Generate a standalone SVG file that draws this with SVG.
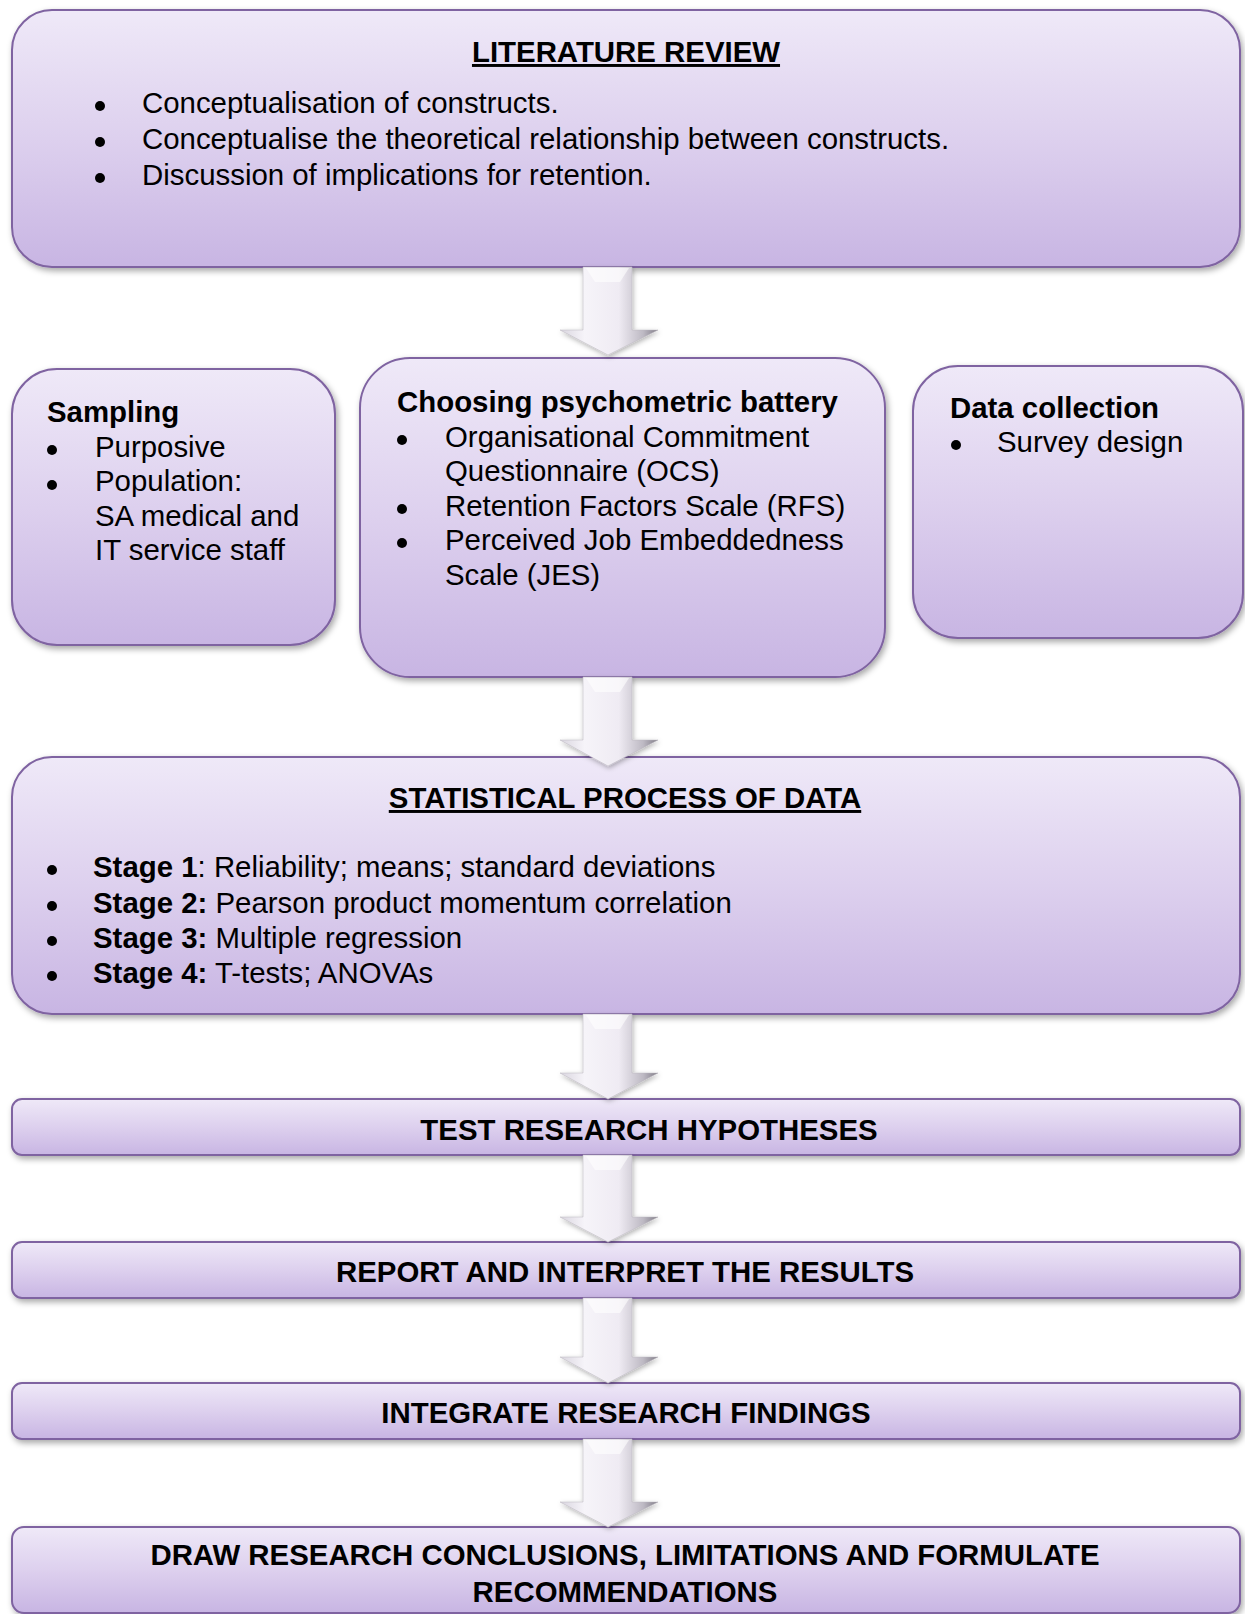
<svg xmlns="http://www.w3.org/2000/svg" width="1245" height="1614" viewBox="0 0 1245 1614">
<defs>
<linearGradient id="boxFill" x1="0" y1="0" x2="0" y2="1">
<stop offset="0" stop-color="#efe9f8"/>
<stop offset="0.5" stop-color="#ddd0ee"/>
<stop offset="1" stop-color="#c8b5e3"/>
</linearGradient>
<linearGradient id="arrowFill" x1="0" y1="0" x2="1" y2="0">
<stop offset="0" stop-color="#d9d5df"/>
<stop offset="0.25" stop-color="#f6f4f9"/>
<stop offset="0.6" stop-color="#efebf3"/>
<stop offset="0.85" stop-color="#bdb9c3"/>
<stop offset="1" stop-color="#7f7b86"/>
</linearGradient>
<filter id="shadow" x="-5%" y="-10%" width="110%" height="130%">
<feDropShadow dx="2" dy="3" stdDeviation="3" flood-color="#000" flood-opacity="0.35"/>
</filter>
<filter id="ashadow" x="-30%" y="-10%" width="160%" height="130%">
<feDropShadow dx="1" dy="2" stdDeviation="2.5" flood-color="#000" flood-opacity="0.3"/>
</filter>
</defs>
<style>
.box{fill:url(#boxFill);stroke:#7f63a1;stroke-width:2;filter:url(#shadow)}
text{font-family:"Liberation Sans",Arial,sans-serif;font-size:29.4px;fill:#000}
.b{font-weight:bold}
.t{font-weight:bold;text-anchor:middle}
.u{text-decoration:underline}
.dot{fill:#000}
.arrow{fill:url(#arrowFill);stroke:#b8b4bd;stroke-width:0.5;filter:url(#ashadow)}
.bevel{fill:#ffffff;opacity:0.6}
</style>

<g id="literature-review">
<rect class="box" x="12" y="10" width="1228" height="257" rx="40"/>
<text class="t u" x="626" y="62">LITERATURE REVIEW</text>
<circle class="dot" cx="100" cy="106" r="5"/><text x="142" y="113">Conceptualisation of constructs.</text>
<circle class="dot" cx="100" cy="142" r="5"/><text x="142" y="149">Conceptualise the theoretical relationship between constructs.</text>
<circle class="dot" cx="100" cy="178" r="5"/><text x="142" y="185">Discussion of implications for retention.</text>
</g>

<g id="sampling">
<rect class="box" x="12" y="369" width="323" height="276" rx="45"/>
<text class="b" x="47" y="422">Sampling</text>
<circle class="dot" cx="52" cy="450" r="5"/><text x="95" y="457">Purposive</text>
<circle class="dot" cx="52" cy="485" r="5"/><text x="95" y="491">Population:</text>
<text x="95" y="526">SA medical and</text>
<text x="95" y="560">IT service staff</text>
</g>

<g id="psychometric-battery">
<rect class="box" x="360" y="358" width="525" height="319" rx="50"/>
<text class="b" x="397" y="412">Choosing psychometric battery</text>
<circle class="dot" cx="402" cy="440" r="5"/><text x="445" y="447">Organisational Commitment</text>
<text x="445" y="481">Questionnaire (OCS)</text>
<circle class="dot" cx="402" cy="509" r="5"/><text x="445" y="516">Retention Factors Scale (RFS)</text>
<circle class="dot" cx="402" cy="543" r="5"/><text x="445" y="550">Perceived Job Embeddedness</text>
<text x="445" y="585">Scale (JES)</text>
</g>

<g id="data-collection">
<rect class="box" x="913" y="366" width="330" height="272" rx="45"/>
<text class="b" x="950" y="418">Data collection</text>
<circle class="dot" cx="956" cy="445" r="5"/><text x="997" y="452">Survey design</text>
</g>

<g id="statistical-process">
<rect class="box" x="12" y="757" width="1228" height="257" rx="40"/>
<text class="t u" x="625" y="808">STATISTICAL PROCESS OF DATA</text>
<circle class="dot" cx="52" cy="870" r="5"/><text x="93" y="877"><tspan class="b">Stage 1</tspan>: Reliability; means; standard deviations</text>
<circle class="dot" cx="52" cy="906" r="5"/><text x="93" y="913"><tspan class="b">Stage 2:</tspan> Pearson product momentum correlation</text>
<circle class="dot" cx="52" cy="941" r="5"/><text x="93" y="948"><tspan class="b">Stage 3:</tspan> Multiple regression</text>
<circle class="dot" cx="52" cy="976" r="5"/><text x="93" y="983"><tspan class="b">Stage 4:</tspan> T-tests; ANOVAs</text>
</g>

<g id="test-hypotheses">
<rect class="box" x="12" y="1099" width="1228" height="56" rx="10"/>
<text class="t" x="649" y="1140">TEST RESEARCH HYPOTHESES</text>
</g>

<g id="report-results">
<rect class="box" x="12" y="1242" width="1228" height="56" rx="10"/>
<text class="t" x="625" y="1282">REPORT AND INTERPRET THE RESULTS</text>
</g>

<g id="integrate-findings">
<rect class="box" x="12" y="1383" width="1228" height="56" rx="10"/>
<text class="t" x="626" y="1423">INTEGRATE RESEARCH FINDINGS</text>
</g>

<g id="draw-conclusions">
<rect class="box" x="12" y="1527" width="1228" height="86" rx="12"/>
<text class="t" x="625" y="1565">DRAW RESEARCH CONCLUSIONS, LIMITATIONS AND FORMULATE</text>
<text class="t" x="625" y="1602">RECOMMENDATIONS</text>
</g>

<g id="connectors">
<path class="arrow" d="M583,267 L632,267 L632,330 L658,330 L608,355 L560,330 L583,330 Z"/>
<path class="bevel" d="M586,268 L629,268 L620,282 L595,282 Z"/>
<path class="arrow" d="M583,677 L632,677 L632,740 L658,740 L608,766 L560,740 L583,740 Z"/>
<path class="bevel" d="M586,678 L629,678 L620,692 L595,692 Z"/>
<path class="arrow" d="M583,1014 L632,1014 L632,1073 L658,1073 L608,1099 L560,1073 L583,1073 Z"/>
<path class="bevel" d="M586,1015 L629,1015 L620,1029 L595,1029 Z"/>
<path class="arrow" d="M583,1155 L632,1155 L632,1217 L658,1217 L608,1242 L560,1217 L583,1217 Z"/>
<path class="bevel" d="M586,1156 L629,1156 L620,1170 L595,1170 Z"/>
<path class="arrow" d="M583,1298 L632,1298 L632,1357 L658,1357 L608,1383 L560,1357 L583,1357 Z"/>
<path class="bevel" d="M586,1299 L629,1299 L620,1313 L595,1313 Z"/>
<path class="arrow" d="M583,1439 L632,1439 L632,1502 L658,1502 L608,1527 L560,1502 L583,1502 Z"/>
<path class="bevel" d="M586,1440 L629,1440 L620,1454 L595,1454 Z"/>
</g>
</svg>
